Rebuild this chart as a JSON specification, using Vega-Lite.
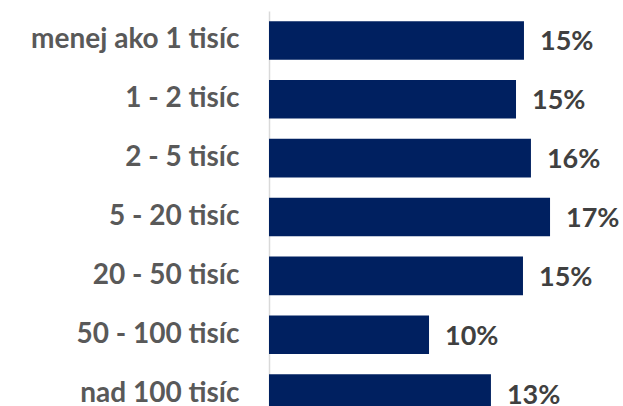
{
  "$schema": "https://vega.github.io/schema/vega-lite/v6.json",
  "autosize": "none",
  "padding": {"left": 269, "top": 11, "right": 22, "bottom": 0},
  "width": 332,
  "height": 412,
  "background": "white",
  "config": {"view": {"stroke": null}},
  "data": {
    "values": [
      {"kategoria": "menej ako 1 tisíc", "podiel": 0.1536},
      {"kategoria": "1 - 2 tisíc", "podiel": 0.1488},
      {"kategoria": "2 - 5 tisíc", "podiel": 0.1578},
      {"kategoria": "5 - 20 tisíc", "podiel": 0.1693},
      {"kategoria": "20 - 50 tisíc", "podiel": 0.1530},
      {"kategoria": "50 - 100 tisíc", "podiel": 0.0964},
      {"kategoria": "nad 100 tisíc", "podiel": 0.1337}
    ]
  },
  "encoding": {
    "y": {
      "field": "kategoria",
      "type": "nominal",
      "sort": null,
      "scale": {"paddingInner": 0.345, "paddingOuter": 0.1725},
      "axis": {
        "title": null,
        "ticks": false,
        "labelPadding": 30,
        "labelFont": "Lato",
        "labelFontSize": 28,
        "labelFontWeight": "bold",
        "labelColor": "#595959",
        "labelLimit": 300,
        "domainColor": "#d9d9d9",
        "domainWidth": 1.5,
        "grid": false
      }
    },
    "x": {
      "field": "podiel",
      "type": "quantitative",
      "scale": {"domain": [0, 0.2], "nice": false},
      "axis": null
    }
  },
  "layer": [
    {"mark": {"type": "bar", "color": "#002060"}},
    {
      "mark": {
        "type": "text",
        "align": "left",
        "baseline": "middle",
        "dx": 16,
        "dy": 2,
        "font": "Lato",
        "fontSize": 27,
        "fontWeight": "bold",
        "color": "#404040"
      },
      "encoding": {
        "text": {"field": "podiel", "type": "quantitative", "format": ".0%"}
      }
    }
  ]
}
